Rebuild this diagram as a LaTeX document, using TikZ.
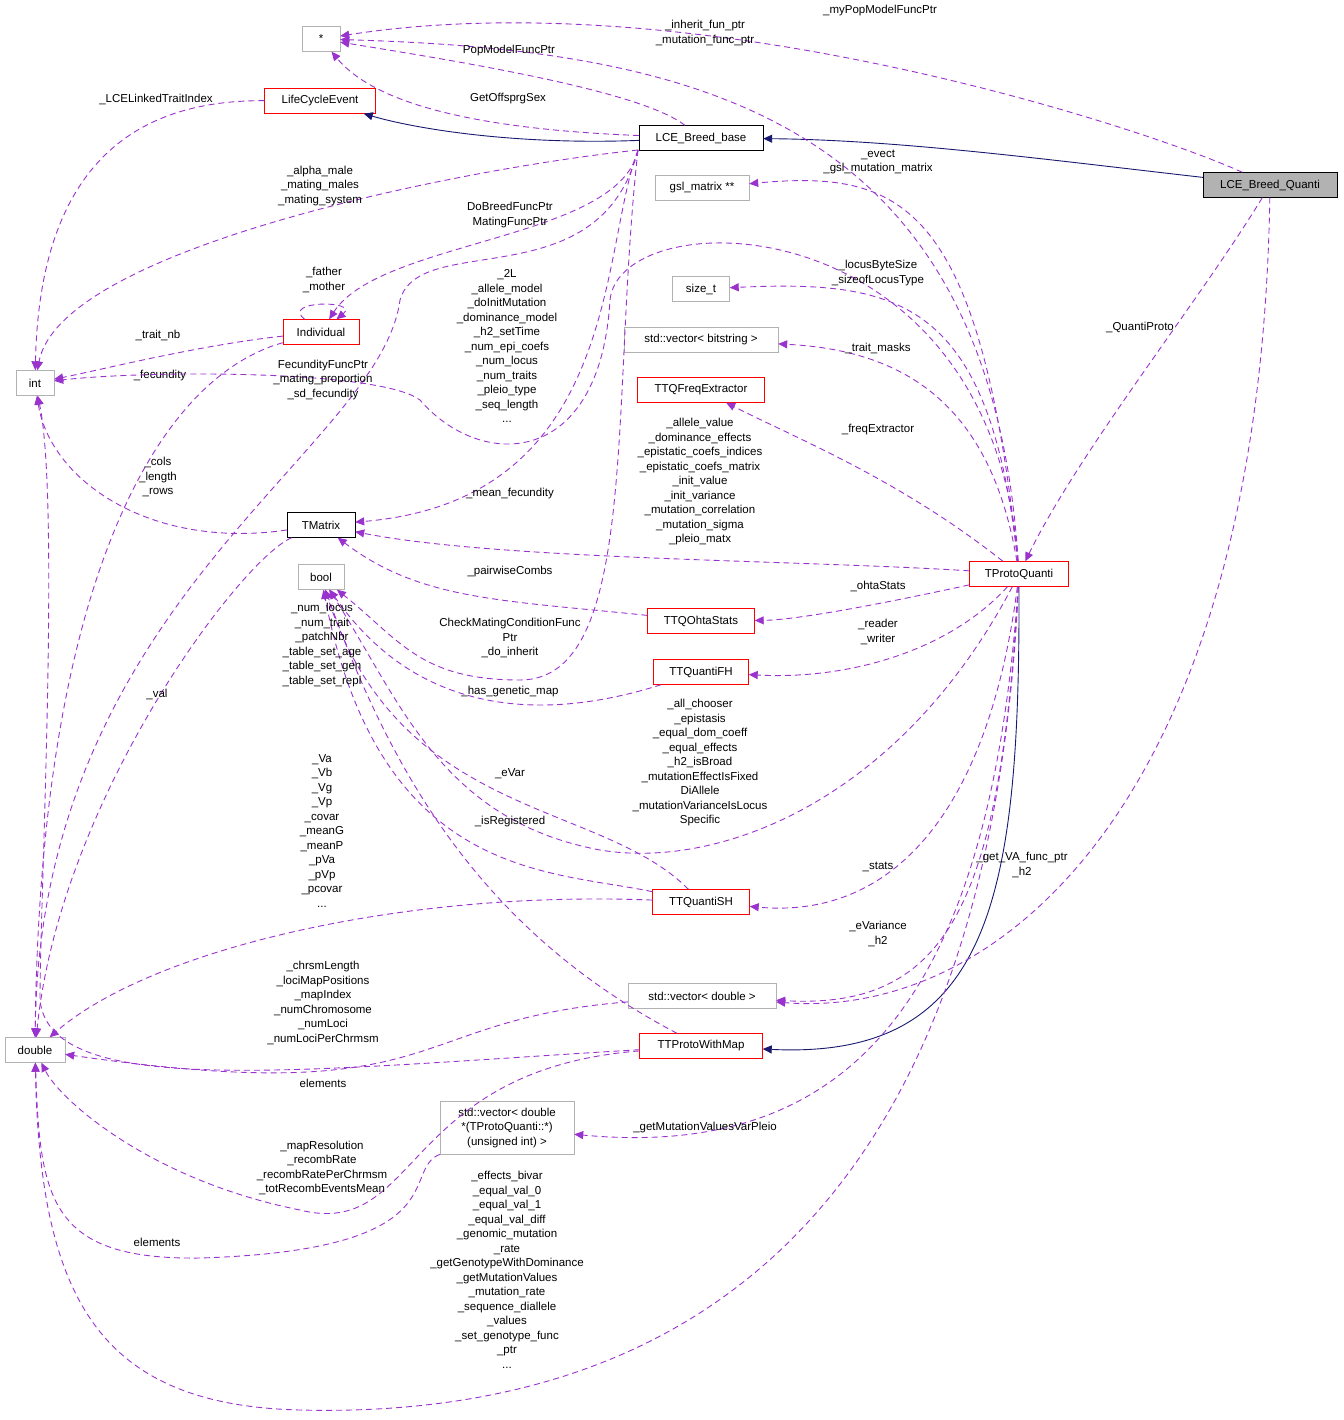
\documentclass[tikz,border=0pt]{standalone}
\usepackage{fontspec}
\setmainfont{Liberation Sans}
\usetikzlibrary{arrows.meta}
\begin{document}
\begin{tikzpicture}[x=1pt,y=-1pt,
  font=\fontsize{11.5}{14.5}\selectfont,
  box/.style={draw,minimum height=25pt,inner sep=2pt,fill=white},
  gbox/.style={box,draw=gray!60},
  rbox/.style={box,draw=red},
  kbox/.style={box,draw=black},
  dep/.style={line width=0.9pt,dash pattern=on 6pt off 4pt,draw={rgb,255:red,154;green,50;blue,205},-{Triangle[length=9pt,width=8pt,fill={rgb,255:red,154;green,50;blue,205}]}},
  inh/.style={line width=0.9pt,draw={rgb,255:red,25;green,25;blue,112},-{Triangle[length=9pt,width=8pt]}},
  lab/.style={align=center,inner sep=0pt}]
\useasboundingbox (0,0) rectangle (1343,1420);
% nodes
\node[gbox,minimum width=38pt] (star) at (321,39) {*};
\node[rbox,minimum width=111pt] (lce) at (320,101) {LifeCycleEvent};
\node[kbox,minimum width=124pt] (base) at (701,138) {LCE\_Breed\_base};
\node[kbox,fill=gray!60,minimum width=134pt] (quanti) at (1270,185) {LCE\_Breed\_Quanti};
\node[gbox,minimum width=94pt] (gsl) at (702,188) {gsl\_matrix **};
\node[gbox,minimum width=57pt] (sizet) at (701,289) {size\_t};
\node[gbox,minimum width=154pt] (vbit) at (701,340) {std::vector< bitstring >};
\node[rbox,minimum width=127pt] (freq) at (701,390) {TTQFreqExtractor};
\node[gbox,minimum width=38pt] (int) at (35,383) {int};
\node[rbox,minimum width=76pt] (ind) at (321,332) {Individual};
\node[kbox,minimum width=68pt] (tm) at (321,525) {TMatrix};
\node[gbox,minimum width=46pt] (bool) at (321,577) {bool};
\node[rbox,minimum width=99pt] (tpq) at (1019,574) {TProtoQuanti};
\node[rbox,minimum width=107pt] (ohta) at (701,621) {TTQOhtaStats};
\node[rbox,minimum width=95pt] (fh) at (701,672) {TTQuantiFH};
\node[rbox,minimum width=97pt] (sh) at (701,902) {TTQuantiSH};
\node[gbox,minimum width=148pt] (vdbl) at (702,996) {std::vector< double >};
\node[gbox,minimum width=60pt] (dbl) at (35,1050) {double};
\node[rbox,minimum width=123pt] (pwm) at (701,1046) {TTProtoWithMap};
\node[gbox,minimum width=134pt,minimum height=53pt,align=center,inner sep=1pt] (vfp) at (507,1128) {std::vector< double\\*(TProtoQuanti::*)\\(unsigned int) >};
\coordinate (bsw) at (638,150);
% inheritance
\draw[inh] (base) .. controls (520,145) and (420,130) .. (lce);
\draw[inh] (quanti) .. controls (1050,160) and (900,140) .. (base);
\draw[inh] (tpq.south) .. controls (1020,900) and (990,1060) .. (pwm);
% dependencies
\draw[dep] (quanti) .. controls (1150,130) and (700,-20) .. (star);
\node[lab] (l1) at (880,11) {\_myPopModelFuncPtr};
\draw[dep] (tpq) .. controls (990,120) and (700,50) .. (star);
\node[lab] (l2) at (705,33) {\_inherit\_fun\_ptr\\\_mutation\_func\_ptr};
\draw[dep] (base) .. controls (640,90) and (450,60) .. (star);
\node[lab] (l3) at (509,51) {PopModelFuncPtr};
\draw[dep] (base) .. controls (500,130) and (380,110) .. (star);
\node[lab] (l4) at (508,99) {GetOffsprgSex};
\draw[dep] (lce) .. controls (150,100) and (40,150) .. (int);
\node[lab] (l5) at (156,99) {\_LCELinkedTraitIndex};
\draw[dep] (bsw) .. controls (450,170) and (60,250) .. (int);
\node[lab] (l6) at (320,186) {\_alpha\_male\\\_mating\_males\\\_mating\_system};
\draw[dep] (bsw) .. controls (620,240) and (380,240) .. (ind);
\node[lab] (l7) at (510,215) {DoBreedFuncPtr\\MatingFuncPtr};
\draw[dep] (ind) .. controls (280,300) and (360,300) .. (ind);
\node[lab] (l8) at (324,280) {\_father\\\_mother};
\draw[dep] (ind) .. controls (200,345) and (100,370) .. (int);
\node[lab] (l9) at (158,335) {\_trait\_nb};
\draw[dep] (ind) .. controls (150,380) and (40,600) .. (dbl);
\node[lab] (l10) at (160,376) {\_fecundity};
\draw[dep] (tpq) .. controls (990,200) and (620,200) .. (610,300) .. controls (600,470) and (480,470) .. (420,400) .. controls (380,370) and (150,370) .. (int);
\node[lab] (l11) at (507,346) {\_2L\\\_allele\_model\\\_doInitMutation\\\_dominance\_model\\\_h2\_setTime\\\_num\_epi\_coefs\\\_num\_locus\\\_num\_traits\\\_pleio\_type\\\_seq\_length\\...};
\draw[dep] (bsw) .. controls (600,300) and (420,230) .. (400,300) .. controls (380,450) and (40,600) .. (dbl);
\node[lab] (l12) at (323,380) {FecundityFuncPtr\\\_mating\_proportion\\\_sd\_fecundity};
\draw[dep] (tm) .. controls (150,550) and (50,480) .. (int);
\node[lab] (l13) at (158,477) {\_cols\\\_length\\\_rows};
\draw[dep] (bsw) .. controls (600,250) and (620,500) .. (tm);
\node[lab] (l14) at (510,494) {\_mean\_fecundity};
\draw[dep] (tpq) .. controls (800,560) and (500,560) .. (tm);
\node[lab] (l15) at (700,482) {\_allele\_value\\\_dominance\_effects\\\_epistatic\_coefs\_indices\\\_epistatic\_coefs\_matrix\\\_init\_value\\\_init\_variance\\\_mutation\_correlation\\\_mutation\_sigma\\\_pleio\_matx};
\draw[dep] (tm) .. controls (240,560) and (60,800) .. (dbl);
\node[lab] (l16) at (157,694) {\_val};
\draw[dep] (ohta) .. controls (500,600) and (420,600) .. (tm);
\node[lab] (l17) at (510,572) {\_pairwiseCombs};
\draw[dep] (bsw) .. controls (610,400) and (640,680) .. (520,680) .. controls (420,680) and (400,640) .. (bool);
\node[lab] (l18) at (510,638) {CheckMatingConditionFunc\\Ptr\\\_do\_inherit};
\draw[dep] (fh) .. controls (550,720) and (420,720) .. (bool);
\node[lab] (l19) at (510,692) {\_has\_genetic\_map};
\draw[dep] (tpq) .. controls (900,800) and (720,870) .. (600,850) .. controls (440,820) and (400,700) .. (bool);
\node[lab] (l20) at (700,763) {\_all\_chooser\\\_epistasis\\\_equal\_dom\_coeff\\\_equal\_effects\\\_h2\_isBroad\\\_mutationEffectIsFixed\\DiAllele\\\_mutationVarianceIsLocus\\Specific};
\draw[dep] (sh) .. controls (600,800) and (400,820) .. (bool);
\node[lab] (l21) at (510,774) {\_eVar};
\draw[dep] (sh) .. controls (550,870) and (380,880) .. (bool);
\node[lab] (l22) at (510,822) {\_isRegistered};
\draw[dep] (pwm) .. controls (500,940) and (400,800) .. (bool);
\node[lab] (l23) at (322,645) {\_num\_locus\\\_num\_trait\\\_patchNbr\\\_table\_set\_age\\\_table\_set\_gen\\\_table\_set\_repl};
\draw[dep] (sh) .. controls (400,890) and (150,950) .. (dbl);
\node[lab] (l24) at (322,831) {\_Va\\\_Vb\\\_Vg\\\_Vp\\\_covar\\\_meanG\\\_meanP\\\_pVa\\\_pVp\\\_pcovar\\...};
\draw[dep] (pwm) .. controls (300,1070) and (50,1100) .. (40,1000) .. controls (40,900) and (60,500) .. (int);
\node[lab] (l25) at (323,1003) {\_chrsmLength\\\_lociMapPositions\\\_mapIndex\\\_numChromosome\\\_numLoci\\\_numLociPerChrmsm};
\draw[dep] (vdbl) .. controls (400,1020) and (450,1110) .. (dbl);
\node[lab] (l26) at (323,1083) {elements};
\draw[dep] (pwm) .. controls (400,1070) and (420,1240) .. (300,1210) .. controls (150,1180) and (60,1100) .. (dbl);
\node[lab] (l27) at (322,1168) {\_mapResolution\\\_recombRate\\\_recombRatePerChrmsm\\\_totRecombEventsMean};
\draw[dep] (vfp) .. controls (400,1170) and (460,1250) .. (200,1258) .. controls (50,1260) and (40,1200) .. (dbl);
\node[lab] (l28) at (157,1242) {elements};
\draw[dep] (tpq) .. controls (990,1200) and (700,1420) .. (300,1410) .. controls (100,1405) and (40,1300) .. (dbl);
\node[lab] (l29) at (507,1270) {\_effects\_bivar\\\_equal\_val\_0\\\_equal\_val\_1\\\_equal\_val\_diff\\\_genomic\_mutation\\\_rate\\\_getGenotypeWithDominance\\\_getMutationValues\\\_mutation\_rate\\\_sequence\_diallele\\\_values\\\_set\_genotype\_func\\\_ptr\\...};
\draw[dep] (tpq) .. controls (980,200) and (900,170) .. (gsl);
\node[lab] (l30) at (878,162) {\_evect\\\_gsl\_mutation\_matrix};
\draw[dep] (tpq) .. controls (990,300) and (900,280) .. (sizet);
\node[lab] (l31) at (878,273) {\_locusByteSize\\\_sizeofLocusType};
\draw[dep] (tpq) .. controls (990,400) and (900,350) .. (vbit);
\node[lab] (l32) at (878,348) {\_trait\_masks};
\draw[dep] (tpq) .. controls (900,480) and (800,440) .. (freq);
\node[lab] (l33) at (878,430) {\_freqExtractor};
\draw[dep] (tpq) .. controls (900,600) and (800,620) .. (ohta);
\node[lab] (l34) at (878,586) {\_ohtaStats};
\draw[dep] (tpq) .. controls (950,650) and (850,680) .. (fh);
\node[lab] (l35) at (878,632) {\_reader\\\_writer};
\draw[dep] (tpq) .. controls (990,800) and (900,920) .. (sh);
\node[lab] (l36) at (878,867) {\_stats};
\draw[dep] (tpq) .. controls (1000,900) and (950,1010) .. (vdbl);
\node[lab] (l37) at (878,934) {\_eVariance\\\_h2};
\draw[dep] (quanti) .. controls (1260,800) and (1000,1020) .. (vdbl);
\node[lab] (l38) at (1022,865) {\_get\_VA\_func\_ptr\\\_h2};
\draw[dep] (tpq) .. controls (990,1000) and (850,1160) .. (vfp);
\node[lab] (l39) at (705,1128) {\_getMutationValuesVarPleio};
\draw[dep] (quanti) .. controls (1200,300) and (1080,450) .. (tpq);
\node[lab] (l40) at (1140,327) {\_QuantiProto};
\end{tikzpicture}
\end{document}
